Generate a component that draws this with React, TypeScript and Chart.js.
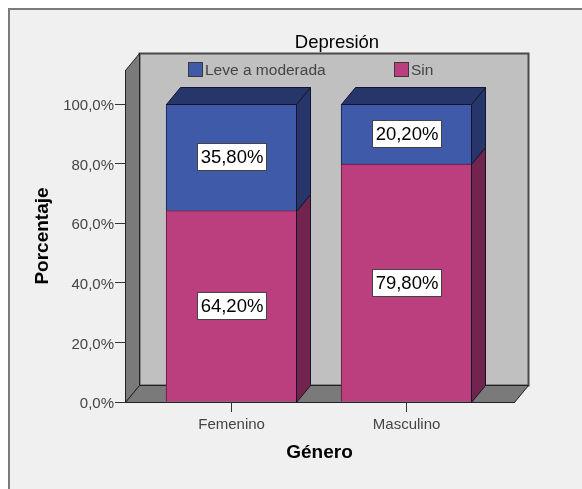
import React, { useEffect, useRef } from "react";
import { Chart, registerables } from "chart.js";

Chart.register(...registerables);

const categories = ["Femenino", "Masculino"];
const categoryPositions = [1, 2];
const sinValues = [64.2, 79.8];
const leveValues = [35.8, 20.2];
const sinLabels = ["64,20%", "79,80%"];
const leveLabels = ["35,80%", "20,20%"];
const yTicks = [0, 20, 40, 60, 80, 100];
const legendTitle = "Depresión";
const xTitle = "Género";
const yTitle = "Porcentaje";

const FONT = '"Liberation Sans", Arial, sans-serif';
const DX = 14;
const DY = 17;

const BLUE = "#3f5aa9";
const BLUE_DARK = "#26366b";
const MAG = "#bb3f7e";
const MAG_DARK = "#72244f";

function poly(ctx: CanvasRenderingContext2D, pts: number[][], fill: string, stroke: string, lw = 1) {
  ctx.beginPath();
  pts.forEach((p, i) => (i ? ctx.lineTo(p[0], p[1]) : ctx.moveTo(p[0], p[1])));
  ctx.closePath();
  ctx.fillStyle = fill;
  ctx.fill();
  ctx.lineWidth = lw;
  ctx.strokeStyle = stroke;
  ctx.stroke();
}

const frame3d = {
  id: "frame3d",
  beforeDraw(chart: any) {
    const { ctx, chartArea: a, width, height } = chart;
    ctx.save();
    ctx.fillStyle = "#ffffff";
    ctx.fillRect(0, 0, width, height);
    ctx.fillStyle = "#f0f0f0";
    ctx.fillRect(8, 8, width - 8, height - 8);
    ctx.fillStyle = "#7b7b7b";
    ctx.fillRect(8, 8, width - 8, 2);
    ctx.fillRect(8, 8, 2, height - 8);
    const l = a.left + 0.5, r = a.right + 0.5, t = a.top + 0.5, b = a.bottom + 0.5;
    poly(ctx, [[l + DX, t - DY], [r + DX, t - DY], [r + DX, b - DY], [l + DX, b - DY]], "#c0c0c0", "#4a4a4a", 2);
    poly(ctx, [[l, b], [l, t], [l + DX, t - DY], [l + DX, b - DY]], "#7a7a7a", "#222222");
    poly(ctx, [[l, b], [r, b], [r + DX, b - DY], [l + DX, b - DY]], "#7a7a7a", "#222222");
    ctx.restore();
  },
  afterDatasetsDraw(chart: any) {
    const { ctx } = chart;
    ctx.save();
    const darks = [MAG_DARK, BLUE_DARK];
    chart.data.datasets.forEach((_: any, di: number) => {
      chart.getDatasetMeta(di).data.forEach((bar: any) => {
        const x1 = Math.round(bar.x + bar.width / 2) - 0.5;
        const x0 = Math.round(bar.x - bar.width / 2) + 0.5;
        const top = Math.round(bar.y) + 0.5;
        const base = Math.round(bar.base) + 0.5;
        poly(ctx, [[x1, base], [x1, top], [x1 + DX, top - DY], [x1 + DX, base - DY]], darks[di], "#14142e");
        if (di === chart.data.datasets.length - 1) {
          poly(ctx, [[x0, top], [x1, top], [x1 + DX, top - DY], [x0 + DX, top - DY]], darks[di], "#14142e");
        }
      });
    });
    // value labels
    const texts = [sinLabels, leveLabels];
    ctx.font = `18.5px ${FONT}`;
    ctx.textAlign = "center";
    ctx.textBaseline = "middle";
    chart.data.datasets.forEach((_: any, di: number) => {
      chart.getDatasetMeta(di).data.forEach((bar: any, i: number) => {
        const cx = Math.round(bar.x);
        const cy = Math.round((bar.y + bar.base) / 2);
        ctx.fillStyle = "#ffffff";
        ctx.strokeStyle = "#444444";
        ctx.lineWidth = 1;
        ctx.fillRect(cx - 35, cy - 14, 70, 28);
        ctx.strokeRect(cx - 34.5, cy - 13.5, 69, 27);
        ctx.fillStyle = "#000000";
        ctx.fillText(texts[di][i], cx, cy + 1);
      });
    });
    // legend and its title
    ctx.textBaseline = "middle";
    ctx.textAlign = "center";
    ctx.font = `18.5px ${FONT}`;
    ctx.fillStyle = "#000000";
    ctx.fillText(legendTitle, 337, 43);
    ctx.textAlign = "left";
    ctx.font = `15.5px ${FONT}`;
    const legendX = [188, 394];
    [1, 0].forEach((di, k) => {
      const ds = chart.data.datasets[di];
      ctx.fillStyle = ds.backgroundColor;
      ctx.strokeStyle = "#3a3a3a";
      ctx.lineWidth = 1;
      ctx.fillRect(legendX[k], 62, 15, 15);
      ctx.strokeRect(legendX[k] + 0.5, 62.5, 14, 14);
      ctx.fillStyle = "#444444";
      ctx.fillText(ds.label, legendX[k] + 17, 71);
    });
    ctx.restore();
  },
};

export default function App() {
  const ref = useRef<HTMLCanvasElement>(null);
  useEffect(() => {
    const chart = new Chart(ref.current as HTMLCanvasElement, {
      type: "bar",
      data: {
        datasets: [
          {
            label: "Sin",
            data: categoryPositions.map((x, i) => ({ x, y: sinValues[i] })),
            backgroundColor: MAG,
            borderColor: "#5c1c40",
            borderWidth: 1,
            barThickness: 131,
            stack: "s",
          },
          {
            label: "Leve a moderada",
            data: categoryPositions.map((x, i) => ({ x, y: leveValues[i] })),
            backgroundColor: BLUE,
            borderColor: "#16204c",
            borderWidth: 1,
            barThickness: 131,
            stack: "s",
          },
        ],
      } as any,
      options: {
        responsive: false,
        animation: false,
        layout: { padding: { left: 0, right: 68, top: 70, bottom: 0 } },
        plugins: { legend: { display: false }, tooltip: { enabled: false } },
        scales: {
          x: {
            type: "linear",
            stacked: true,
            offset: false,
            min: 1 - 106.6 / 175,
            max: 2 + 107.4 / 175,
            afterBuildTicks: (s: any) => {
              s.ticks = categoryPositions.map((value) => ({ value }));
            },
            afterFit: (s: any) => {
              s.height = 87;
            },
            ticks: {
              autoSkip: false,
              maxRotation: 0,
              padding: 4,
              color: "#444444",
              font: { family: FONT, size: 15 },
              callback: (v: any) => categories[Number(v) - 1],
            },
            grid: { offset: false, drawOnChartArea: false, drawTicks: true, tickLength: 10, color: "#333333" },
            border: { display: true, color: "#222222", width: 1 },
            title: {
              display: true,
              text: xTitle,
              color: "#000000",
              font: { family: FONT, size: 19, weight: "bold" },
              padding: { top: 0, bottom: 25 },
            },
          },
          y: {
            stacked: true,
            min: 0,
            max: 111.41,
            afterBuildTicks: (s: any) => {
              s.ticks = yTicks.map((value) => ({ value }));
            },
            afterFit: (s: any) => {
              s.width = 125;
            },
            ticks: {
              autoSkip: false,
              padding: 1,
              labelOffset: 2,
              color: "#444444",
              font: { family: FONT, size: 15 },
              callback: (v: any) => `${Number(v).toFixed(1).replace(".", ",")}%`,
            },
            grid: { drawOnChartArea: false, drawTicks: true, tickLength: 10, color: "#333333" },
            border: { display: true, color: "#222222", width: 1 },
            title: {
              display: true,
              text: yTitle,
              color: "#000000",
              font: { family: FONT, size: 19, weight: "bold" },
              padding: { top: 31, bottom: 0 },
            },
          },
        },
      },
      plugins: [frame3d],
    } as any);
    return () => chart.destroy();
  }, []);
  return (
    <div style={{ position: "fixed", left: 0, top: 0, width: 582, height: 489, overflow: "hidden" }}>
      <canvas ref={ref} width={582} height={489} style={{ display: "block" }} />
    </div>
  );
}
